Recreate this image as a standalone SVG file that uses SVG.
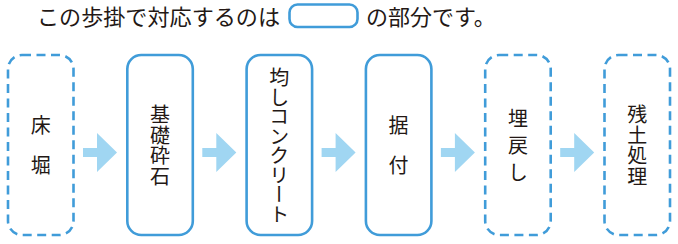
<svg xmlns="http://www.w3.org/2000/svg" width="678" height="244" viewBox="0 0 678 244">
<defs>
<style>
.t{font-family:"Noto Sans CJK JP","Noto Sans",sans-serif;fill:#231815;}
.h{font-size:22px;}
.v{font-size:20px;writing-mode:vertical-rl;text-anchor:middle;}
.box{fill:#fff;stroke:#409cd9;stroke-width:2.6;}
.dash{stroke-dasharray:9 5.5;}
.arr{fill:#a0d6f2;}
</style>
<path id="arrow" d="M0 -4.5 H14 V-19.5 L34 0 L14 19.5 V4.5 H0 Z"/>
</defs>
<g id="header">
<text class="t h" x="37" y="25" textLength="243" lengthAdjust="spacingAndGlyphs">この歩掛で対応するのは</text>
<rect class="box" x="289.5" y="4.5" width="68" height="22.5" rx="8"/>
<text class="t h" x="366" y="25">の部分です。</text>
</g>
<g id="connectors" class="arr">
<use href="#arrow" x="83" y="152.5"/>
<use href="#arrow" x="202.3" y="152.5"/>
<use href="#arrow" x="321.6" y="152.5"/>
<use href="#arrow" x="440.9" y="152.5"/>
<use href="#arrow" x="560.2" y="152.5"/>
</g>
<g id="node1">
<rect class="box dash" x="8" y="55" width="65.5" height="180" rx="14"/>
<text class="t v" x="40.8" y="155" style="letter-spacing:20px">床堀</text>
</g>
<g id="node2">
<rect class="box" x="127.3" y="55" width="65.5" height="180" rx="14"/>
<text class="t v" x="160" y="145.5" style="letter-spacing:0.5px">基礎砕石</text>
</g>
<g id="node3">
<rect class="box" x="246.6" y="55" width="65.5" height="180" rx="14"/>
<text class="t v" x="279.3" y="145.5" style="letter-spacing:-0.5px">均しコンクリート</text>
</g>
<g id="node4">
<rect class="box" x="365.9" y="55" width="65.5" height="180" rx="14"/>
<text class="t v" x="398.6" y="155" style="letter-spacing:20px">据付</text>
</g>
<g id="node5">
<rect class="box dash" x="485.2" y="55" width="65.5" height="180" rx="14"/>
<text class="t v" x="517.9" y="149" style="letter-spacing:7px">埋戻し</text>
</g>
<g id="node6">
<rect class="box dash" x="604.5" y="55" width="65.5" height="180" rx="14"/>
<text class="t v" x="637.2" y="145.5" style="letter-spacing:0.5px">残土処理</text>
</g>
</svg>
